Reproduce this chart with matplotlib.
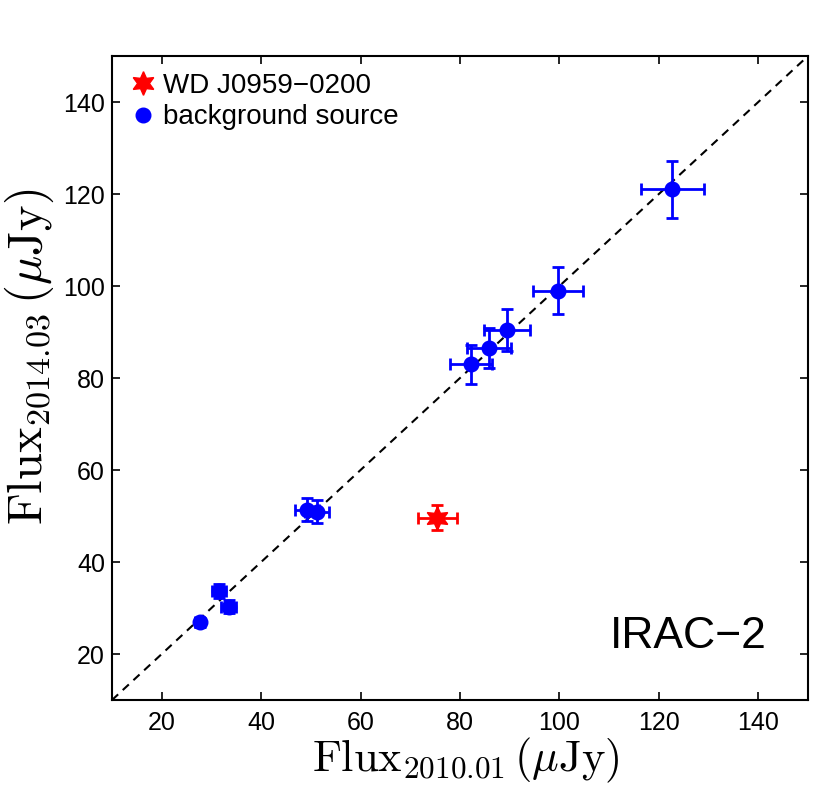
import matplotlib
matplotlib.use('Agg')
import matplotlib.pyplot as plt
import numpy as np

plt.rcParams['font.family'] = ['Liberation Sans', 'DejaVu Sans']
plt.rcParams['mathtext.fontset'] = 'cm'

# background sources (epoch 2010.01 vs 2014.03)
bg_x = [27.6, 31.5, 33.5, 49.2, 51.2, 82.2, 85.9, 89.5, 99.7, 122.7]
bg_y = [26.9, 33.7, 30.3, 51.4, 50.9, 83.0, 86.5, 90.4, 99.0, 121.0]
bg_xerr = [1.0, 1.4, 1.5, 2.4, 2.4, 4.2, 4.4, 4.6, 5.0, 6.3]
bg_yerr = [1.0, 1.5, 1.4, 2.5, 2.5, 4.2, 4.4, 4.6, 5.1, 6.2]

# white dwarf
wd_x = [75.4]
wd_y = [49.6]
wd_xerr = [3.9]
wd_yerr = [2.7]

lims = [10, 150]
ticks = [20, 40, 60, 80, 100, 120, 140]

fig = plt.figure(figsize=(8.31, 7.89), dpi=100)
ax = fig.add_axes([0.1348, 0.1128, 0.8375, 0.8162])

ax.plot(lims, lims, 'k--', lw=1.5, dashes=(4, 3), zorder=1)

ax.errorbar(wd_x, wd_y, xerr=wd_xerr, yerr=wd_yerr, fmt='none', ecolor='red',
            elinewidth=2, capsize=4, capthick=2, zorder=2)
ax.plot(wd_x, wd_y, ls='none', marker=(6, 1, 0), ms=17, color='red',
        mec='red', label='WD J0959\u22120200', zorder=3)

ax.errorbar(bg_x, bg_y, xerr=bg_xerr, yerr=bg_yerr, fmt='none', ecolor='blue',
            elinewidth=2, capsize=4, capthick=2, zorder=2)
ax.plot(bg_x, bg_y, ls='none', marker='o', ms=10.5, color='blue', mec='blue',
        label='background source', zorder=3)

ax.set_xlim(lims)
ax.set_ylim(lims)
ax.set_xticks(ticks)
ax.set_yticks(ticks)
ax.tick_params(direction='in', top=True, right=True, length=6, width=1.2,
               labelsize=18)
ax.tick_params(axis='x', pad=8)
ax.tick_params(axis='y', pad=5)
for s in ax.spines.values():
    s.set_linewidth(1.5)

ax.set_xlabel(r'$\mathrm{Flux}_{2010.01}\,(\mu\mathrm{Jy})$', fontsize=32)
ax.set_ylabel(r'$\mathrm{Flux}_{2014.03}\,(\mu\mathrm{Jy})$', fontsize=35)
ax.xaxis.set_label_coords(0.509, -0.056)
ax.yaxis.set_label_coords(-0.08, 0.533)

ax.text(141.8, 21.3, 'IRAC\u22122', fontsize=32, ha='right', va='baseline')

ax.legend(loc='upper left', frameon=False, fontsize=20, handletextpad=0.25,
          borderaxespad=0.2, labelspacing=0.2, handlelength=1.0, numpoints=1)

fig.savefig('out.png', dpi=100)
